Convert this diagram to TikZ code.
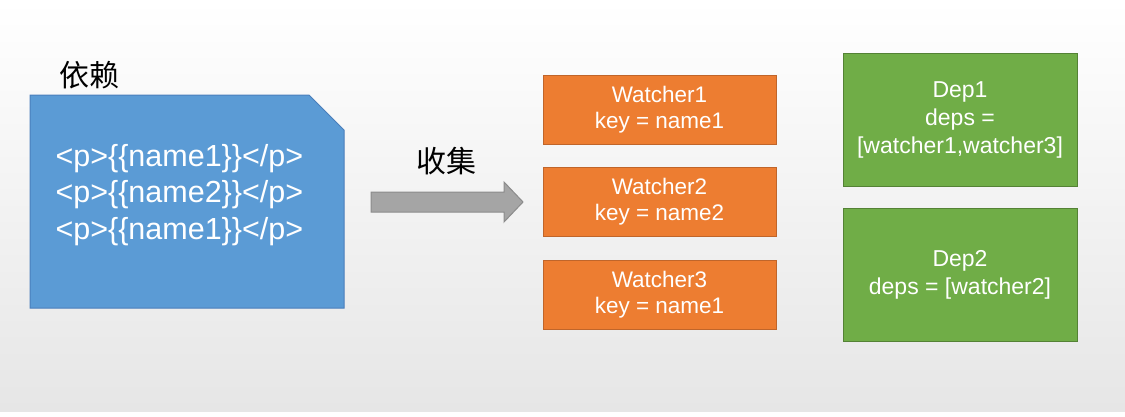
\documentclass[tikz,border=0pt]{standalone}
\usepackage{fontspec}
\setmainfont{Liberation Sans}
\newfontfamily\cjk{Noto Sans CJK SC}
\usepackage{tikz}
\usetikzlibrary{arrows.meta, positioning}

\definecolor{bgGray}{HTML}{E6E6E6}
\definecolor{docBlue}{HTML}{5B9BD5}
\definecolor{docBlueLine}{HTML}{4A7EBB}
\definecolor{watchOrange}{HTML}{ED7D31}
\definecolor{watchOrangeLine}{HTML}{C0652A}
\definecolor{depGreen}{HTML}{70AD47}
\definecolor{depGreenLine}{HTML}{548235}
\definecolor{arrowGray}{HTML}{A5A5A5}
\definecolor{arrowGrayLine}{HTML}{8C8C8C}

\begin{document}
\begin{tikzpicture}[x=1pt, y=-1pt, on grid,
	watcher/.style = {rectangle, fill=watchOrange, draw=watchOrangeLine, line width=1pt,
		minimum width=233pt, minimum height=69pt, align=center, text=white,
		font=\fontsize{22.5}{26}\selectfont},
	dep/.style = {rectangle, fill=depGreen, draw=depGreenLine, line width=1pt,
		minimum width=234pt, minimum height=133pt, align=center, text=white,
		font=\fontsize{23}{28}\selectfont},
	title/.style = {font=\cjk\fontsize{30}{34}\selectfont, text=black}]
	\useasboundingbox (0,0) rectangle (1125,416);
	\fill[white] (0,0) rectangle (1125,416);
	\shade[top color=white, bottom color=bgGray] (0,0) rectangle (1125,411);
	
	% template block
	\draw[fill=docBlue, draw=docBlueLine, line width=1pt] (30,95) -- (309,95) -- (344,130) -- (344,308) -- (30,308) -- cycle;
	\node[title] (depend) at (89,75) {依赖};
	\node[anchor=west, align=left, text=white, font=\fontsize{30.5}{36.5}\selectfont] (tpl) at (52,195)
		{<p>\{\{name1\}\}</p>\\<p>\{\{name2\}\}</p>\\<p>\{\{name1\}\}</p>};
	
	% collect arrow
	\coordinate (collect) at (371,202);
	\draw[fill=arrowGray, draw=arrowGrayLine, line width=1pt] (collect) ++(0,-10) -- ++(133,0) -- ++(0,-10)
		-- ++(19,20) -- ++(-19,20) -- ++(0,-10) -- ++(-133,0) -- cycle;
	\node[title] (collectlbl) at (446,161) {收集};
	
	% watchers and deps
	\node[watcher] (w1) at (659.5,110) {Watcher1\\key = name1};
	\node[watcher, below = 92pt of w1] (w2) {Watcher2\\key = name2};
	\node[watcher, below = 93pt of w2] (w3) {Watcher3\\key = name1};
	\node[dep] (d1) at (960,119.5) {Dep1\\deps =\\{[}watcher1,watcher3{]}};
	\node[dep, below = 155pt of d1] (d2) {Dep2\\deps = {[}watcher2{]}};
\end{tikzpicture}
\end{document}
